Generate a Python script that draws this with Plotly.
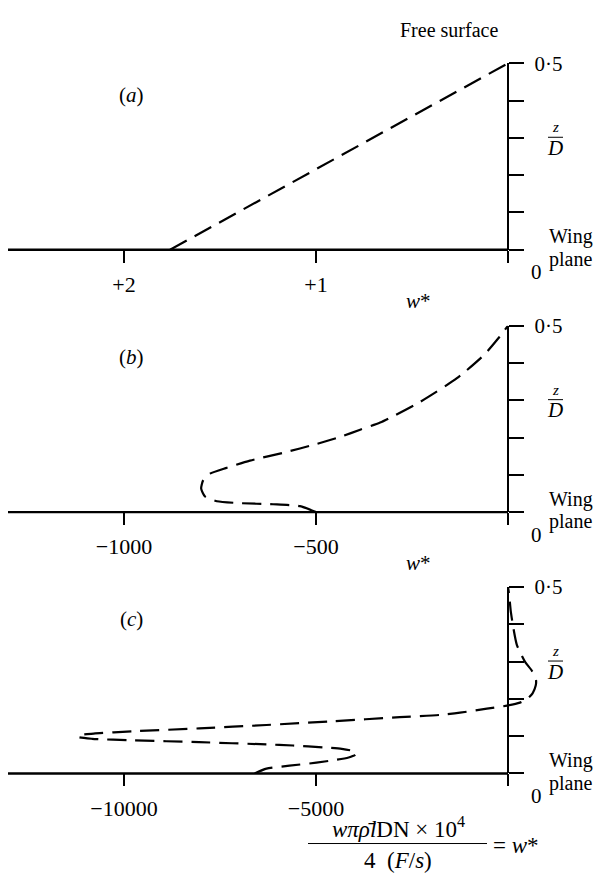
import plotly.graph_objects as go

# ---- data: vertical profiles of w* against z/D ----
# (a) linear profile
a_w = [1.76, 0.0]
a_z = [0.0, 0.5]

# (b)
b_w = [-500, -542, -612, -698, -758, -789, -799, -794, -776, -732, -672,
       -586, -497, -433, -385, -333, -233, -133, -63, -23, 0]
b_z = [0.0, 0.016, 0.021, 0.024, 0.029, 0.042, 0.063, 0.085, 0.103, 0.119,
       0.138, 0.159, 0.183, 0.203, 0.221, 0.24, 0.293, 0.359, 0.421, 0.469, 0.5]

# (c)
c_w = [-6600, -6290, -5690, -4990, -4450, -4150, -3990, -3950, -4060, -4330,
       -4800, -5600, -6290, -8040, -9790, -10830, -11200, -11150, -10790,
       -9790, -8040, -6290, -4570, -2820, -1775, -1250, -550, -25, 310, 500,
       640, 720, 730, 625, 440, 230, 140, 70, 30, 0]
c_z = [0.0, 0.013, 0.021, 0.029, 0.037, 0.043, 0.049, 0.055, 0.061, 0.066,
       0.07, 0.075, 0.078, 0.084, 0.089, 0.093, 0.098, 0.103, 0.107,
       0.113, 0.121, 0.13, 0.14, 0.151, 0.157, 0.163, 0.174, 0.182, 0.19, 0.2,
       0.215, 0.235, 0.25, 0.275, 0.3, 0.345, 0.39, 0.437, 0.48, 0.5]

# tick labels
a_ticks = [2, 1, 0]
a_ticktext = ["+2", "+1", ""]
b_ticks = [-1000, -500, 0]
b_ticktext = ["\u22121000", "\u2212500", ""]
c_ticks = [-10000, -5000, 0]
c_ticktext = ["\u221210000", "\u22125000", ""]
z_ticks = [0, 0.1, 0.2, 0.3, 0.4, 0.5]
z_ticktext = ["", "", "", "", "", "0\u00b75"]
panel_names = ["a", "b", "c"]

# ---- layout geometry (pixels) ----
W, H = 598, 881
FONT = "Liberation Serif, Times New Roman, serif"
X_LEFT, X_ZERO, X_RIGHT = 8, 508, 545
TICK_SPACING_PX = 192
DASH = "19px,9px"
LW = 2.2


def px(x):
    return x / W


def py(y):
    return 1 - y / H


panels = [
    dict(name=panel_names[0], w=a_w, z=a_z, ticks=a_ticks, text=a_ticktext,
         step=1, reverse=True, top=52, bottom=241, wlabel=True),
    dict(name=panel_names[1], w=b_w, z=b_z, ticks=b_ticks, text=b_ticktext,
         step=500, reverse=False, top=318, bottom=507, wlabel=True),
    dict(name=panel_names[2], w=c_w, z=c_z, ticks=c_ticks, text=c_ticktext,
         step=5000, reverse=False, top=583, bottom=772, wlabel=False),
]

fig = go.Figure()
layout = {}
shapes = []
annotations = []


def ann(text, x, y, size=20, xanchor="center"):
    annotations.append(dict(text=text, x=px(x), y=py(y), xref="paper",
                            yref="paper", showarrow=False,
                            xanchor=xanchor, yanchor="middle",
                            font=dict(family=FONT, size=size,
                                      color="black")))


for i, p in enumerate(panels, start=1):
    per_px = p["step"] / TICK_SPACING_PX
    if p["reverse"]:
        xr = [(X_ZERO - X_LEFT) * per_px, -(X_RIGHT - X_ZERO) * per_px]
    else:
        xr = [-(X_ZERO - X_LEFT) * per_px, (X_RIGHT - X_ZERO) * per_px]
    xa = "xaxis" if i == 1 else f"xaxis{i}"
    ya = "yaxis" if i == 1 else f"yaxis{i}"
    xref = "x" if i == 1 else f"x{i}"
    yref = "y" if i == 1 else f"y{i}"

    fig.add_trace(go.Scatter(
        x=p["w"], y=p["z"], mode="lines", xaxis=xref, yaxis=yref,
        line=dict(color="black", width=LW, dash=DASH,
                  shape="spline" if len(p["w"]) > 2 else "linear",
                  smoothing=0.6),
        cliponaxis=False, hoverinfo="skip"))

    layout[xa] = dict(
        domain=[px(X_LEFT), px(X_RIGHT)], range=xr, anchor=yref,
        showline=False, showgrid=False, zeroline=False,
        ticks="outside", ticklen=12, tickwidth=2.2, tickcolor="black",
        tickvals=p["ticks"], ticktext=p["text"], ticklabelstandoff=3,
        tickfont=dict(family=FONT, size=22, color="black"), fixedrange=True)
    layout[ya] = dict(
        domain=[py(p["bottom"]), py(p["top"])], range=[0, 0.5],
        anchor="free", position=px(X_ZERO), side="right",
        showline=True, linewidth=2.4, linecolor="black",
        showgrid=False, zeroline=False,
        ticks="outside", ticklen=15, tickwidth=2.4, tickcolor="black",
        tickvals=z_ticks, ticktext=z_ticktext, ticklabelstandoff=6,
        tickfont=dict(family=FONT, size=21, color="black"), fixedrange=True)

    top, bot = p["top"], p["bottom"]

    # horizontal wing-plane line
    shapes.append(dict(type="line", xref="paper", yref="paper",
                       x0=px(X_LEFT), x1=px(X_ZERO), y0=py(bot), y1=py(bot),
                       line=dict(color="black", width=2.4)))

    ann(f"(<i>{p['name']}</i>)", 131, top + 32, size=21)
    # z/D label
    ann("<i>z</i>", 555, top + 65, size=15)
    ann("<i>D</i>", 555, top + 86, size=21)
    shapes.append(dict(type="line", xref="paper", yref="paper",
                       x0=px(548), x1=px(563), y0=py(top + 75),
                       y1=py(top + 75), line=dict(color="black", width=1)))
    ann("Wing", 547, bot - 13, xanchor="left")
    ann("plane", 547, bot + 10, xanchor="left")
    ann("0", 536, bot + 23, size=21)
    if p["wlabel"]:
        ann("<i>w</i>*", 418, bot + 52, size=21)

# title over the top panel
ann("Free surface", 449, 18)

# definition of w* below the bottom panel
ann("<i>w\u03c0\u03c1\u0304l</i>DN\u00a0\u00d7\u00a010<sup>4</sup>", 398, 827,
    size=23)
ann("4\u00a0\u00a0(<i>F</i>/<i>s</i>)", 398, 860, size=23)
ann("=\u00a0<i>w</i>*", 491, 845, size=23, xanchor="left")
shapes.append(dict(type="line", xref="paper", yref="paper", x0=px(308),
                   x1=px(487), y0=py(843), y1=py(843),
                   line=dict(color="black", width=1)))

fig.update_layout(
    width=W, height=H, margin=dict(l=0, r=0, t=0, b=0, pad=0),
    paper_bgcolor="white", plot_bgcolor="white", showlegend=False,
    shapes=shapes, annotations=annotations, **layout)

fig.write_html("out.html", config={"displayModeBar": False})
